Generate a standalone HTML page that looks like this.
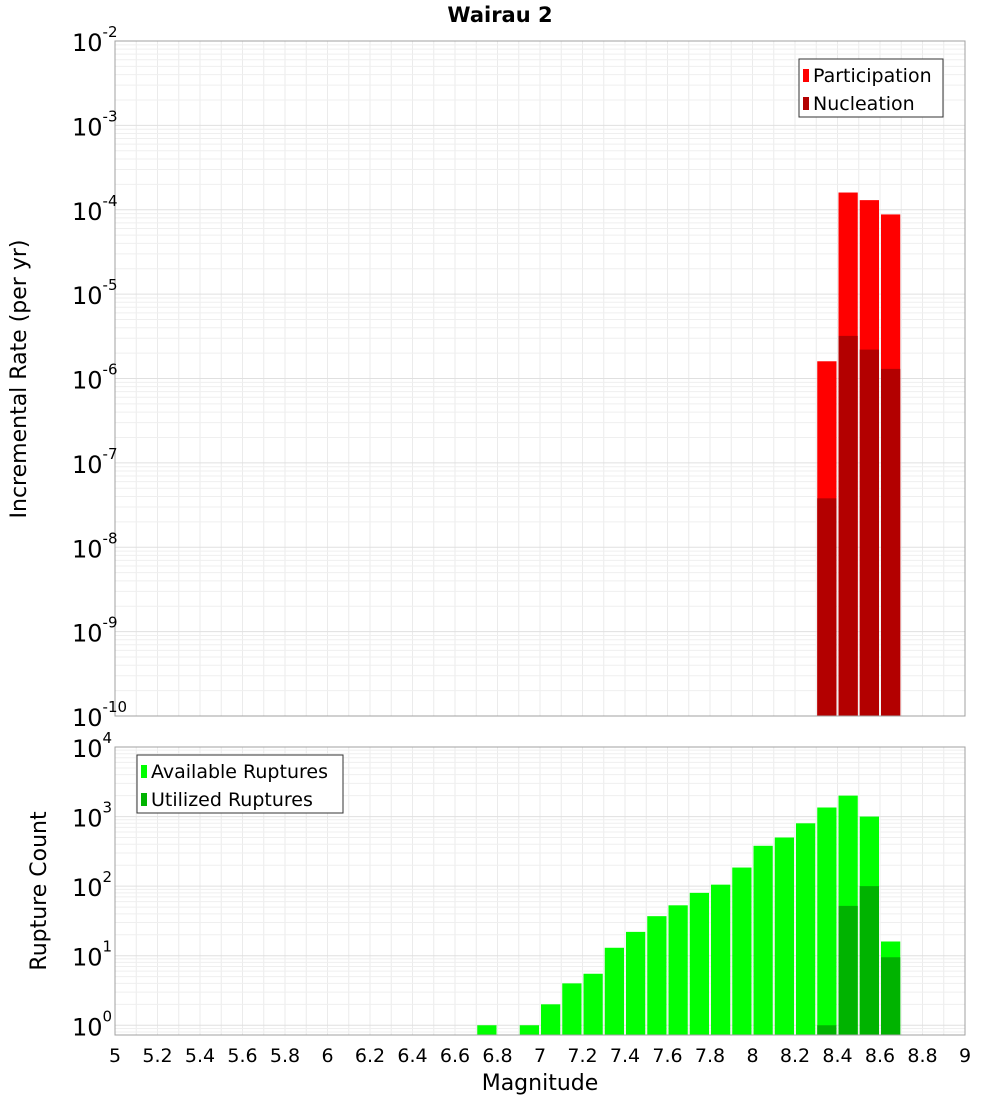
<!DOCTYPE html>
<html><head><meta charset="utf-8"><style>
body{margin:0;background:#fff;font-family:"Liberation Sans","DejaVu Sans",sans-serif}
svg text{font-family:"DejaVu Sans","Liberation Sans",sans-serif}
</style></head><body>
<svg id="c" width="1000" height="1100" xmlns="http://www.w3.org/2000/svg"></svg>
<script>
const mags=[6.7,6.9,7.0,7.1,7.2,7.3,7.4,7.5,7.6,7.7,7.8,7.9,8.0,8.1,8.2,8.3,8.4,8.5,8.6];
const available=[1,1,2,4,5.5,13,22,37,53,80,105,185,380,500,800,1350,2000,1000,16];
const utilized=[0,0,0,0,0,0,0,0,0,0,0,0,0,0,0,1,52,100,9.5];
const rateMags=[8.3,8.4,8.5,8.6];
const participation=[1.6e-6,1.6e-4,1.3e-4,8.8e-5];
const nucleation=[3.8e-8,3.2e-6,2.2e-6,1.3e-6];
const xTicks=[5,5.2,5.4,5.6,5.8,6,6.2,6.4,6.6,6.8,7,7.2,7.4,7.6,7.8,8,8.2,8.4,8.6,8.8,9];
const topExps=[-10,-9,-8,-7,-6,-5,-4,-3,-2];
const botExps=[0,1,2,3,4];

const svg=document.getElementById('c');const NS='http://www.w3.org/2000/svg';
function mk(t,a,p,txt){const e=document.createElementNS(NS,t);for(const k in a)e.setAttribute(k,a[k]);if(txt!==undefined)e.textContent=txt;(p||svg).appendChild(e);return e;}
const X0=115,X1=965;
const x=m=>X0+(m-5)/4*(X1-X0);
const T={top:41,bot:716,lo:-10,hi:-2};
const B={top:747,bot:1035,lo:-0.14,hi:4};
const y=(P,v)=>P.bot-(Math.log10(v)-P.lo)/(P.hi-P.lo)*(P.bot-P.top);

function grid(P,name){
  const g=mk('g',{});
  for(let m=5;m<=9.001;m+=0.1){const xx=x(m);mk('line',{x1:xx,x2:xx,y1:P.top,y2:P.bot,stroke:'#ebebeb','stroke-width':1},g);}
  for(let e=Math.floor(P.lo);e<P.hi;e++)for(let k=1;k<10;k++){const v=k*Math.pow(10,e);const l=Math.log10(v);if(l<P.lo||l>P.hi)continue;const yy=y(P,v);mk('line',{x1:X0,x2:X1,y1:yy,y2:yy,stroke:k==1?'#e0e0e0':'#efefef','stroke-width':1},g);}
}
grid(T,'top');grid(B,'bottom');

function bars(P,ms,vals,color,name){
  ms.forEach((m,i)=>{const v=vals[i];if(!v)return;const yy=y(P,v);
    const r=mk('rect',{x:x(m)+1,y:yy,width:x(m+0.1)-x(m)-2,height:P.bot-yy,fill:color});
    
    });
}
bars(T,rateMags,participation,'#ff0000','participation-bar');
bars(T,rateMags,nucleation,'#b30000','nucleation-bar');
bars(B,mags,available,'#00ff00','available-bar');
bars(B,mags,utilized,'#00b300','utilized-bar');

[T,B].forEach((P,i)=>{const r=mk('rect',{x:X0,y:P.top,width:X1-X0,height:P.bot-P.top,fill:'none',stroke:'#a0a0a0'});
});

function yLabels(P,exps,name){exps.forEach(e=>{const yy=y(P,Math.pow(10,e));
  const t=mk('text',{x:72,y:yy+10,'font-size':24,fill:'#000'});
  
  mk('tspan',{},t,'10');mk('tspan',{dy:-14,'font-size':15},t,String(e));});}
yLabels(T,topExps,'top-y');yLabels(B,botExps,'bottom-y');

xTicks.forEach(m=>{const t=mk('text',{x:x(m),y:1062,'font-size':19,'text-anchor':'middle'},null,String(m));
});

let t;
t=mk('text',{x:500,y:22,'font-size':21,'font-weight':'bold','text-anchor':'middle'},null,'Wairau 2');
t=mk('text',{x:540,y:1090,'font-size':22,'text-anchor':'middle'},null,'Magnitude');
t=mk('text',{x:0,y:0,'font-size':22,'text-anchor':'middle',transform:'translate(26,379) rotate(-90)'},null,'Incremental Rate (per yr)');
t=mk('text',{x:0,y:0,'font-size':22,'text-anchor':'middle',transform:'translate(46,891) rotate(-90)'},null,'Rupture Count');

function legend(lx,ly,w,items,name){const g=mk('g',{});
  mk('rect',{x:lx,y:ly,width:w,height:58,fill:'#fff',stroke:'#333'},g);
  items.forEach((it,i)=>{mk('rect',{x:lx+4,y:ly+10+i*28,width:6,height:13,fill:it[1]},g);
  const e=mk('text',{x:lx+14,y:ly+23+i*28,'font-size':19},g,it[0]);});}
legend(799,59,144,[['Participation','#ff0000'],['Nucleation','#b30000']],'top-legend');
legend(137,755,206,[['Available Ruptures','#00ff00'],['Utilized Ruptures','#00b300']],'bottom-legend');
</script></body></html>
